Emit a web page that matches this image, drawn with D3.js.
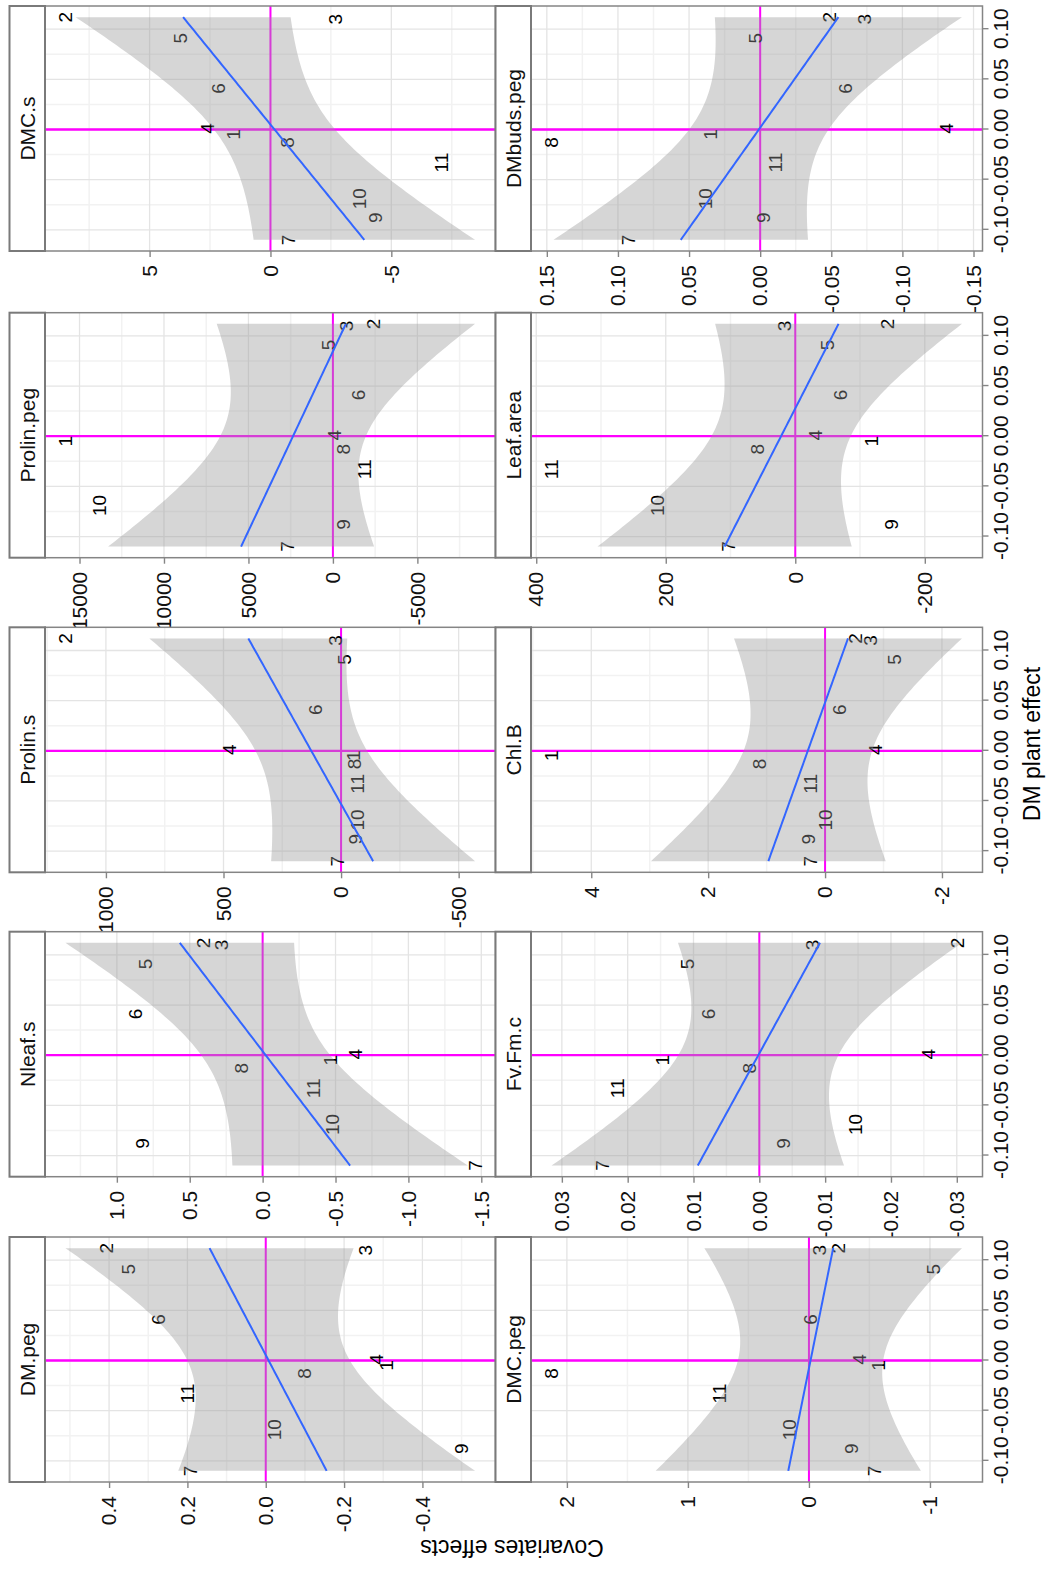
<!DOCTYPE html>
<html><head><meta charset="utf-8">
<script src="https://cdn.jsdelivr.net/npm/d3@7"></script>
<style>
body{margin:0;background:#fff}
svg{display:block}
text{font-family:"Liberation Sans",Arial,Helvetica,sans-serif}
</style>
</head><body>
<svg id="chart" width="1049" height="1573"></svg>
<script>
// ---------------- DATA ----------------
const plantLabels = ["1","2","3","4","5","6","7","8","9","10","11"];
const dmPlantEffect = [-0.005, 0.112, 0.110, 0.001, 0.091, 0.041, -0.110, -0.013, -0.088, -0.069, -0.033];

const panelNames = ["DM.peg","Nleaf.s","Prolin.s","Prolin.peg","DMC.s",
                    "DMC.peg","Fv.Fm.c","Chl.B","Leaf.area","DMbuds.peg"];

const dmPeg     = [-0.307, 0.408, -0.253, -0.281, 0.352, 0.275, 0.194, -0.099, -0.499, -0.022, 0.201];
const nleafS    = [-0.464, 0.411, 0.283, -0.635, 0.803, 0.872, -1.457, 0.146, 0.827, -0.475, -0.349];
const prolinS   = [-52, 1172, 24, 477, -11, 109, 17, -56, -61, -68, -68];
const prolinPeg = [15831, -2375, -796, -101, 297, -1484, 2731, -594, -594, 13854, -1823];
const dmcS      = [1.56, 8.48, -2.66, 2.63, 3.73, 2.16, -0.72, -0.69, -4.32, -3.69, -7.08];
const dmcPeg    = [-0.568, -0.242, -0.087, -0.416, -1.028, -0.008, -0.539, 2.127, -0.349, 0.166, 0.738];
const fvFmC     = [0.01474, -0.0300, -0.00804, -0.02561, 0.0110, 0.00778, 0.02386, 0.00151, -0.00363, -0.01457, 0.02154];
const chlB      = [4.68, -0.52, -0.78, -0.856, -1.18, -0.235, 0.248, 1.134, 0.29, -0.01, 0.248];
const leafArea  = [-117.2, -141.7, 16.4, -31.1, -49.1, -69.2, 103.8, 58.4, -147.3, 212.8, 376.4];
const dmbudsPeg = [0.0354, -0.0487, -0.0734, -0.1308, 0.0037, -0.0598, 0.0927, 0.1467, -0.0022, 0.0384, -0.0104];

const covariateValues = [dmPeg, nleafS, prolinS, prolinPeg, dmcS, dmcPeg, fvFmC, chlB, leafArea, dmbudsPeg];

const xTickValues = [-0.10, -0.05, 0.00, 0.05, 0.10];
const xTickLabels = ["-0.10", "-0.05", "0.00", "0.05", "0.10"];

const yTickValues = [
  [-0.4, -0.2, 0, 0.2, 0.4],
  [-1.5, -1.0, -0.5, 0, 0.5, 1.0],
  [-500, 0, 500, 1000],
  [-5000, 0, 5000, 10000, 15000],
  [-5, 0, 5],
  [-1, 0, 1, 2],
  [-0.03, -0.02, -0.01, 0, 0.01, 0.02, 0.03],
  [-2, 0, 2, 4],
  [-200, 0, 200, 400],
  [-0.15, -0.10, -0.05, 0, 0.05, 0.10, 0.15]
];
const yTickLabels = [
  ["-0.4", "-0.2", "0.0", "0.2", "0.4"],
  ["-1.5", "-1.0", "-0.5", "0.0", "0.5", "1.0"],
  ["-500", "0", "500", "1000"],
  ["-5000", "0", "5000", "10000", "15000"],
  ["-5", "0", "5"],
  ["-1", "0", "1", "2"],
  ["-0.03", "-0.02", "-0.01", "0.00", "0.01", "0.02", "0.03"],
  ["-2", "0", "2", "4"],
  ["-200", "0", "200", "400"],
  ["-0.15", "-0.10", "-0.05", "0.00", "0.05", "0.10", "0.15"]
];

const xTitle = "DM plant effect";
const yTitle = "Covariates effects";

// ---------------- LAYOUT (unrotated plot, then rotated 90° CCW) ----------------
const FULL_W = 1049, FULL_H = 1573;
const PANEL_W = 245;
const colRight = [336, 641.3, 945.7, 1260.3, 1567];
const rows = [
  {stripTop: 9.5, top: 45, bottom: 495.5},
  {stripTop: 495.5, top: 531, bottom: 982.5}
];
const T_CRIT = 2.262157; // qt(0.975, df = 9)

const svg = d3.select("#chart");
const defs = svg.append("defs");
svg.append("rect").attr("width", FULL_W).attr("height", FULL_H).attr("fill", "#fff");
const root = svg.append("g").attr("transform", `translate(0,${FULL_H}) rotate(-90)`);

function lmFit(xs, ys) {
  const n = xs.length, mx = d3.mean(xs), my = d3.mean(ys);
  let sxx = 0, sxy = 0;
  for (let i = 0; i < n; i++) { sxx += (xs[i]-mx)**2; sxy += (xs[i]-mx)*(ys[i]-my); }
  const b = sxy / sxx, a = my - b * mx;
  let rss = 0;
  for (let i = 0; i < n; i++) rss += (ys[i] - a - b*xs[i])**2;
  return {n, mx, sxx, a, b, s: Math.sqrt(rss / (n - 2))};
}
function minorBreaks(majors, domain) {
  const step = majors[1] - majors[0];
  const out = [];
  for (let v = majors[0] - step/2; v <= domain[1] + 1e-12; v += step) {
    if (v >= domain[0] && v <= domain[1]) out.push(v);
  }
  return out;
}

const xExt = d3.extent(dmPlantEffect);
const xPad = (xExt[1] - xExt[0]) * 0.05;
const xDomain = [xExt[0] - xPad, xExt[1] + xPad];
const xMinor = minorBreaks(xTickValues, xDomain);
const xFitGrid = d3.range(80).map(k => xExt[0] + k * (xExt[1] - xExt[0]) / 79);

const panels = panelNames.map((name, i) => ({
  name, values: covariateValues[i], ticks: yTickValues[i], tickLabels: yTickLabels[i],
  row: Math.floor(i / 5), col: i % 5, idx: i
}));

// draw right-most columns first so that left neighbours cover overflowing labels
const order = [4, 9, 3, 8, 2, 7, 1, 6, 0, 5];

order.forEach(i => {
  const p = panels[i];
  const L = colRight[p.col] - PANEL_W, R = colRight[p.col];
  const rw = rows[p.row];
  const T = rw.top, B = rw.bottom;
  const x = d3.scaleLinear().domain(xDomain).range([L, R]);

  const fit = lmFit(dmPlantEffect, p.values);
  const band = xFitGrid.map(xv => {
    const yhat = fit.a + fit.b * xv;
    const se = fit.s * Math.sqrt(1/fit.n + (xv - fit.mx)**2 / fit.sxx);
    return {x: xv, y: yhat, lo: yhat - T_CRIT*se, hi: yhat + T_CRIT*se};
  });
  const yLo = Math.min(d3.min(p.values), d3.min(band, d => d.lo));
  const yHi = Math.max(d3.max(p.values), d3.max(band, d => d.hi));
  const yPad = (yHi - yLo) * 0.05;
  const yDomain = [yLo - yPad, yHi + yPad];
  const y = d3.scaleLinear().domain(yDomain).range([B, T]);

  const g = root.append("g");
  g.append("rect").attr("x", L).attr("y", T).attr("width", R - L).attr("height", B - T).attr("fill", "#fff");

  defs.append("clipPath").attr("id", "clip" + i)
    .append("rect").attr("x", L).attr("y", T).attr("width", R - L).attr("height", B - T);
  const inner = g.append("g").attr("clip-path", `url(#clip${i})`);

  // grid
  const yMinor = minorBreaks(p.ticks, yDomain);
  inner.selectAll(".ymin").data(yMinor).join("line")
    .attr("x1", L).attr("x2", R).attr("y1", d => y(d)).attr("y2", d => y(d))
    .attr("stroke", "#F2F2F2").attr("stroke-width", 1.5);
  inner.selectAll(".xmin").data(xMinor).join("line")
    .attr("x1", d => x(d)).attr("x2", d => x(d)).attr("y1", T).attr("y2", B)
    .attr("stroke", "#F2F2F2").attr("stroke-width", 1.5);
  inner.selectAll(".ymaj").data(p.ticks).join("line")
    .attr("x1", L).attr("x2", R).attr("y1", d => y(d)).attr("y2", d => y(d))
    .attr("stroke", "#E4E4E4").attr("stroke-width", 1.3);
  inner.selectAll(".xmaj").data(xTickValues).join("line")
    .attr("x1", d => x(d)).attr("x2", d => x(d)).attr("y1", T).attr("y2", B)
    .attr("stroke", "#E4E4E4").attr("stroke-width", 1.3);

  // reference lines
  inner.append("line").attr("x1", L).attr("x2", R).attr("y1", y(0)).attr("y2", y(0))
    .attr("stroke", "#FF00FF").attr("stroke-width", 2);
  inner.append("line").attr("x1", x(0)).attr("x2", x(0)).attr("y1", T).attr("y2", B)
    .attr("stroke", "#FF00FF").attr("stroke-width", 2.3);

  // point labels
  inner.selectAll(".lab").data(p.values).join("text")
    .attr("x", (d, k) => x(dmPlantEffect[k])).attr("y", d => y(d))
    .attr("dy", "0.36em").attr("text-anchor", "middle")
    .attr("font-size", 19).attr("fill", "#000")
    .text((d, k) => plantLabels[k]);

  // smooth: ribbon + line
  inner.append("path").datum(band)
    .attr("d", d3.area().x(d => x(d.x)).y0(d => y(d.lo)).y1(d => y(d.hi)))
    .attr("fill", "#999999").attr("fill-opacity", 0.4);
  inner.append("path").datum(band)
    .attr("d", d3.line().x(d => x(d.x)).y(d => y(d.y)))
    .attr("fill", "none").attr("stroke", "#3366FF").attr("stroke-width", 2);

  // panel border
  g.append("rect").attr("x", L).attr("y", T).attr("width", R - L).attr("height", B - T)
    .attr("fill", "none").attr("stroke", "#858585").attr("stroke-width", 1.5);

  // strip
  g.append("rect").attr("x", L).attr("y", rw.stripTop).attr("width", R - L).attr("height", T - rw.stripTop)
    .attr("fill", "#fff").attr("stroke", "#7A7A7A").attr("stroke-width", 2);
  g.append("text").attr("x", (L + R) / 2).attr("y", (rw.stripTop + T) / 2).attr("dy", "0.36em")
    .attr("text-anchor", "middle").attr("font-size", 21).attr("fill", "#111").text(p.name);

  // y axis
  const ya = g.append("g").attr("transform", `translate(${L},0)`)
    .call(d3.axisLeft(y).tickValues(p.ticks).tickFormat((d, k) => p.tickLabels[k]).tickSize(6).tickPadding(8));
  ya.select(".domain").remove();
  ya.selectAll(".tick line").attr("stroke", "#858585").attr("stroke-width", 1.4);
  ya.selectAll(".tick text").attr("font-size", 21).attr("fill", "#111")
    .attr("font-family", "Liberation Sans, Arial, sans-serif");

  // x axis (bottom row only)
  if (p.row === 1) {
    const xa = g.append("g").attr("transform", `translate(0,${B})`)
      .call(d3.axisBottom(x).tickValues(xTickValues).tickFormat((d, k) => xTickLabels[k]).tickSize(6).tickPadding(4.5));
    xa.select(".domain").remove();
    xa.selectAll(".tick line").attr("stroke", "#858585").attr("stroke-width", 1.4);
    xa.selectAll(".tick text").attr("font-size", 21).attr("fill", "#111")
      .attr("font-family", "Liberation Sans, Arial, sans-serif");
  }
});

// axis titles
const uMid = (colRight[0] - PANEL_W + colRight[4]) / 2;
root.append("text").attr("x", uMid).attr("y", 1040).attr("text-anchor", "middle")
  .attr("font-size", 23).attr("fill", "#000").text(xTitle);
root.append("text").attr("transform", `translate(33,512) rotate(-90)`).attr("text-anchor", "middle")
  .attr("font-size", 23).attr("fill", "#000").text(yTitle);
</script>
</body></html>
